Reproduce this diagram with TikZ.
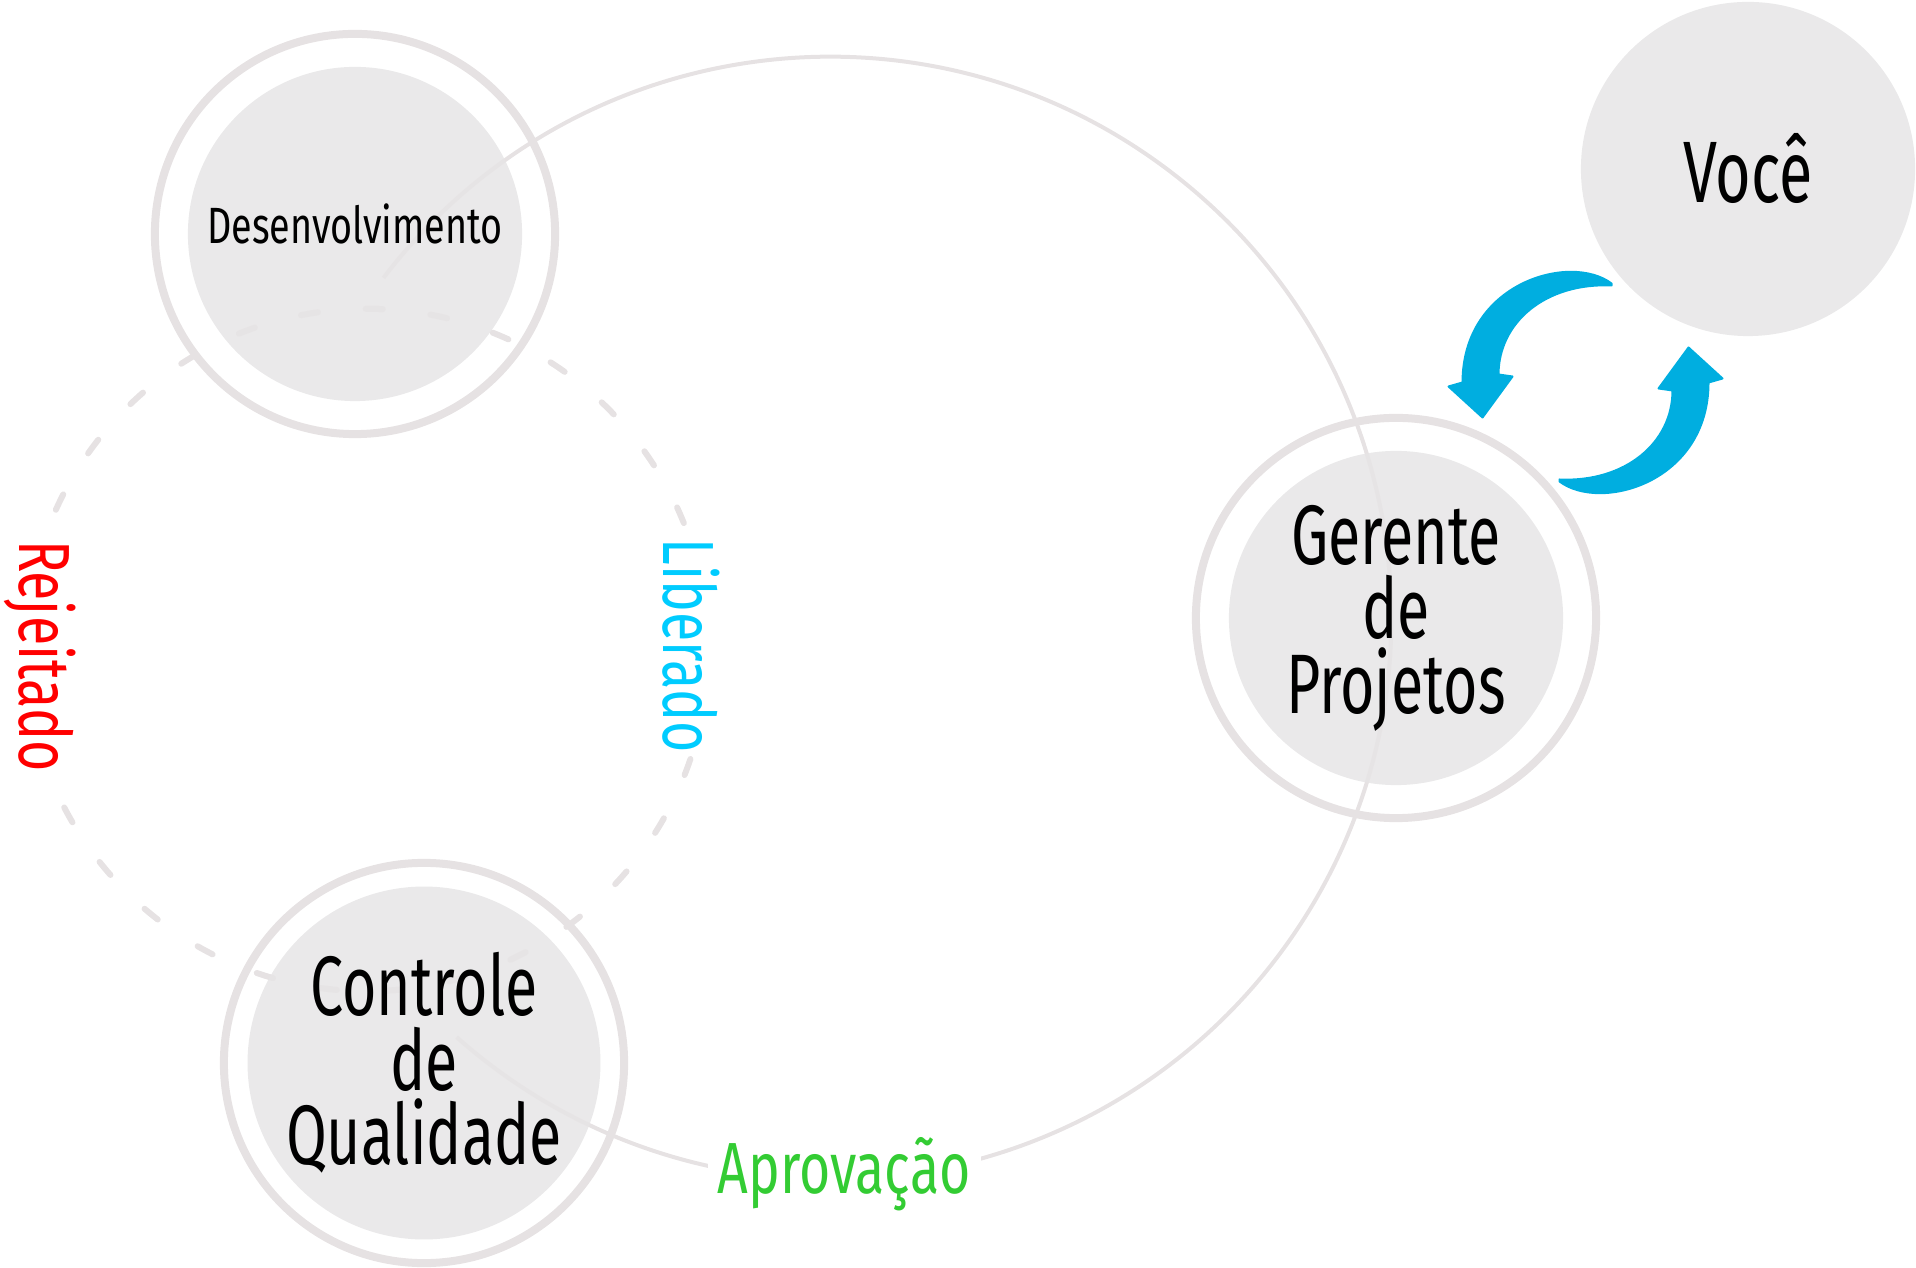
\documentclass[tikz,border=0pt]{standalone}
\usepackage{fontspec}
\usepackage{tikz}
\usetikzlibrary{calc}
\newfontfamily\flowfont[FakeStretch=0.74]{Fira Sans}
\newfontfamily\discfont[FakeStretch=0.70]{Fira Sans}
\definecolor{ringgray}{RGB}{230,226,227}
\definecolor{discgray}{RGB}{230,229,230}
\definecolor{swapblue}{RGB}{0,174,224}
\definecolor{rejred}{RGB}{255,0,0}
\definecolor{libcyan}{RGB}{0,204,255}
\definecolor{aprgreen}{RGB}{51,204,51}

\begin{document}
\begin{tikzpicture}[
  x=0.01cm, y=-0.01cm,
  disc/.style={circle, fill=discgray, fill opacity=0.85, text opacity=1, minimum size=3.34cm,
               inner sep=0pt, align=center, font=\discfont\fontsize{24}{21.2}\selectfont},
  ring/.style={draw=ringgray, line width=0.08cm},
  orbit/.style={draw=ringgray, line width=0.04cm},
  dashring/.style={draw=ringgray, line width=0.06cm, line cap=round, dash pattern=on 0.17cm off 0.48cm},
  flowlabel/.style={font=\flowfont\fontsize{20.6}{20.6}\selectfont, fill=white, inner sep=0pt},
  swaparrow/.style={fill=swapblue, draw=swapblue, line width=0.02cm, line join=round}
]
\useasboundingbox (0,0) rectangle (1916,1268);

\coordinate (hub) at (830,618);
\coordinate (rework) at (367,650);
\draw[orbit] (hub) ++(142.7:5.61cm) arc[start angle=142.7, end angle=-131.7, radius=5.61cm];
\draw[dashring] (rework) circle[radius=3.41cm];

\node[disc, font=\flowfont\fontsize{14.5}{14.5}\selectfont, text depth=0.2cm] (dev) at (355,234) {Desenvolvimento};
\node[disc] (qa) at (424,1063) {Controle\\de\\Qualidade};
\node[disc] (pm) at (1396,618) {Gerente\\de\\Projetos};
\node[disc, font=\discfont\fontsize{24.8}{20.3}\selectfont] (voce) at (1748,169) {Você};

\foreach \n in {dev,qa,pm}
  \draw[ring] (\n.center) circle[radius=2cm];

\node[flowlabel, text=rejred, rotate=-90] (rej) at (40,656) {Rejeitado};
\node[flowlabel, text=libcyan, rotate=-90] (lib) at (691,646) {Liberado};
\node[flowlabel, text=aprgreen, inner xsep=0.1cm] (apr) at (844,1174) {Aprovação};

\coordinate (swapc) at ($(voce)!0.5!(pm)+(13.5,-11)$);
\foreach \ang in {0,180}
  \filldraw[swaparrow, shift={(swapc)}, rotate=\ang]
    (26,-99) .. controls (-15,-130) and (-123,-100) .. (-123,0)
    -- (-137,4) -- (-103,35) -- (-73,-6) -- (-87,-8)
    .. controls (-87,-60) and (-40,-100) .. (26,-97) -- cycle;
\end{tikzpicture}
\end{document}
